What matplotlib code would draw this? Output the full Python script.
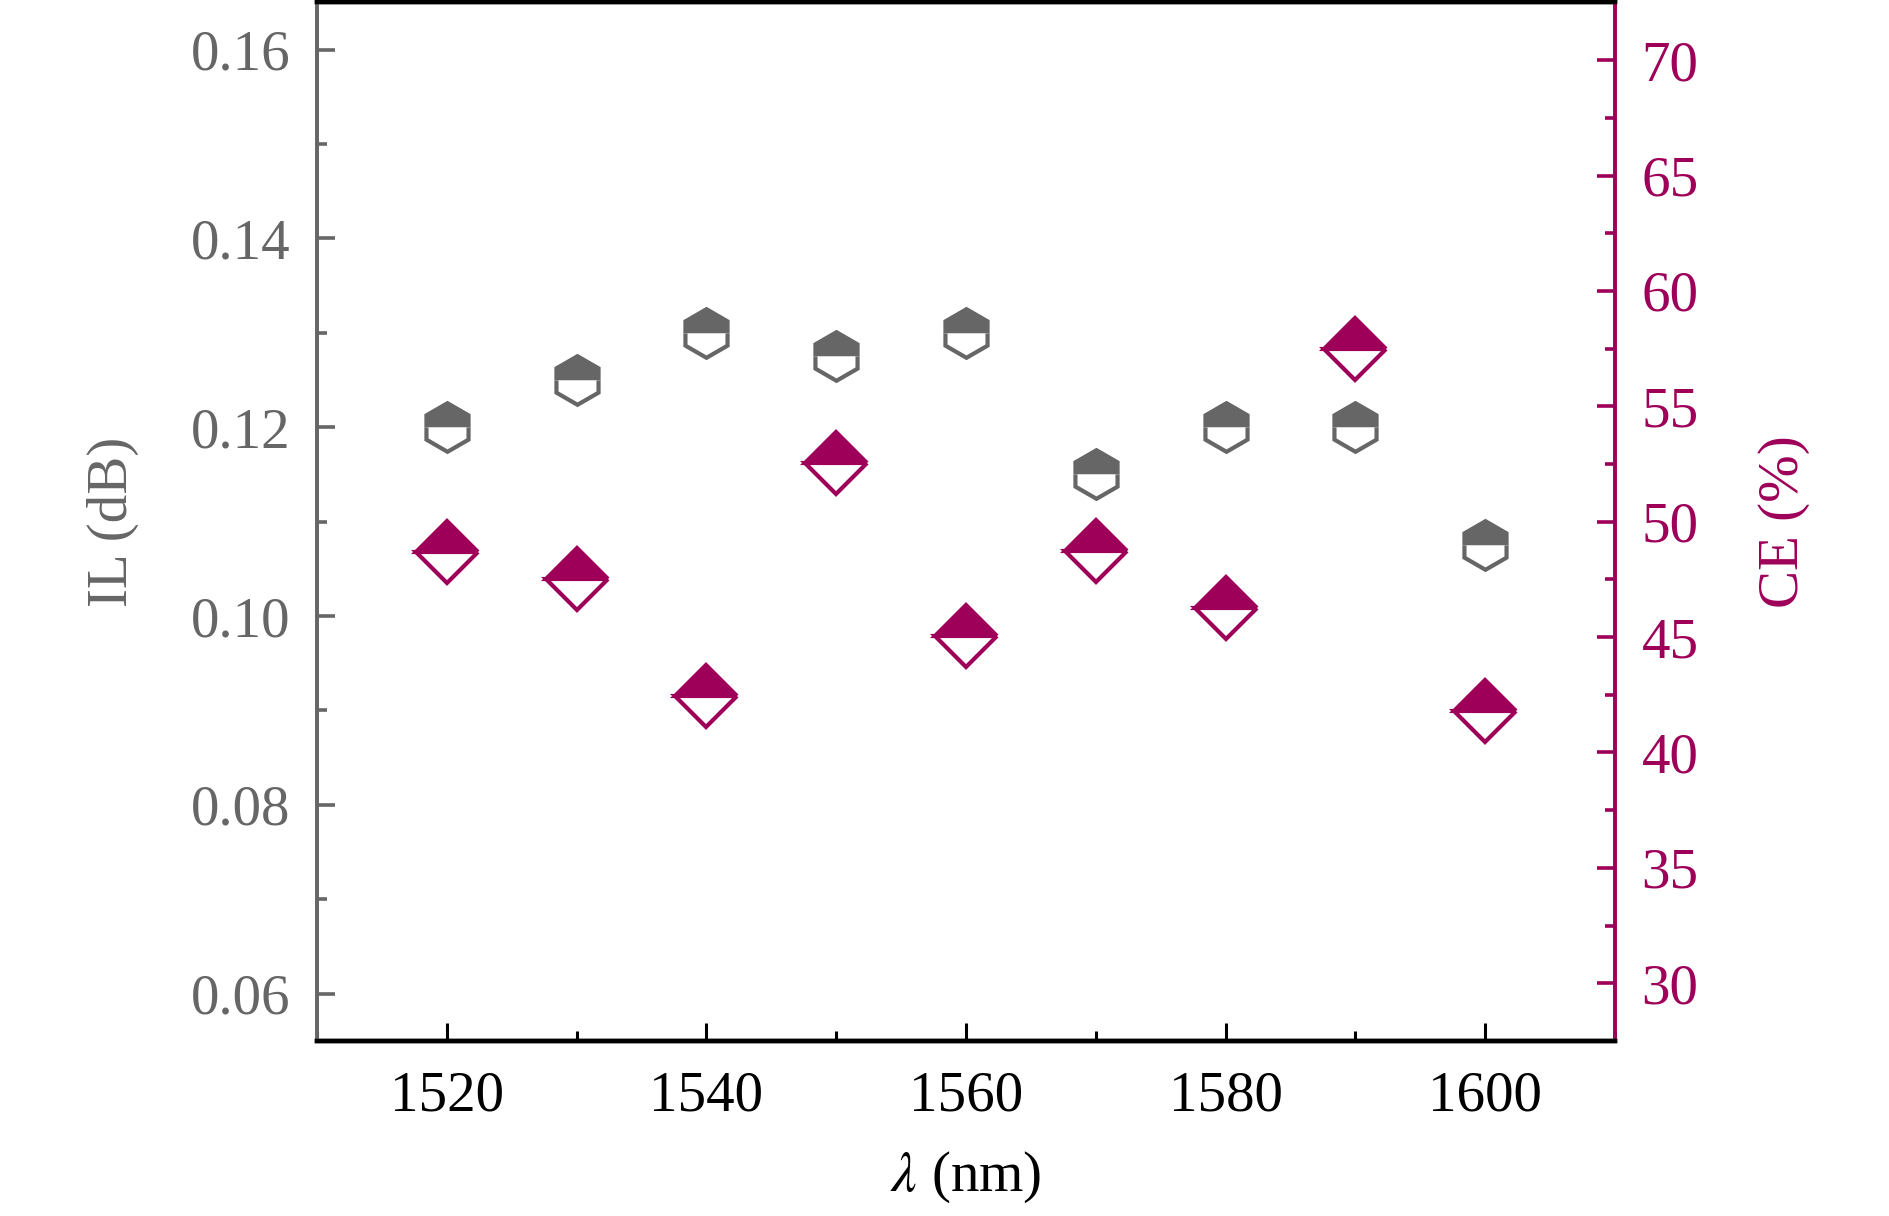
import matplotlib
matplotlib.use("Agg")
import matplotlib.pyplot as plt
from matplotlib.ticker import MultipleLocator

plt.rcParams['font.family'] = ['Liberation Serif', 'DejaVu Serif']
plt.rcParams['mathtext.fontset'] = 'stix'

# data
wavelength = [1520, 1530, 1540, 1550, 1560, 1570, 1580, 1590, 1600]
il_db = [0.120, 0.125, 0.130, 0.1275, 0.130, 0.115, 0.120, 0.120, 0.1075]
ce_pct = [48.7, 47.5, 42.45, 52.55, 45.05, 48.75, 46.25, 57.5, 41.8]

gray = '#666666'
crimson = '#9E0059'
fs = 41

fig = plt.figure(figsize=(18.9, 12.16), dpi=100)
ax = fig.add_axes([0.1677, 0.144, 0.8545 - 0.1677, 0.854])
ax2 = ax.twinx()

ax.plot(wavelength, il_db, linestyle='none', marker='h', markersize=35,
        fillstyle='top', color=gray, markeredgecolor=gray,
        markerfacecoloralt='white', markeredgewidth=3)
ax2.plot(wavelength, ce_pct, linestyle='none', marker='D', markersize=31.5,
         fillstyle='top', color=crimson, markeredgecolor=crimson,
         markerfacecoloralt='white', markeredgewidth=3)

ax.set_xlim(1510, 1610)
ax.set_ylim(0.055, 0.165)
ax2.set_ylim(27.5, 72.5)

ax.xaxis.set_major_locator(MultipleLocator(20))
ax.xaxis.set_minor_locator(MultipleLocator(10))
ax.yaxis.set_major_locator(MultipleLocator(0.02))
ax.yaxis.set_minor_locator(MultipleLocator(0.01))
ax2.yaxis.set_major_locator(MultipleLocator(5))
ax2.yaxis.set_minor_locator(MultipleLocator(2.5))
ax.yaxis.set_major_formatter(plt.FormatStrFormatter('%.2f'))

# spines
for a in (ax, ax2):
    a.spines['top'].set_color('black')
    a.spines['top'].set_linewidth(3.2)
    a.spines['bottom'].set_color('black')
    a.spines['bottom'].set_linewidth(3.2)
    a.spines['left'].set_color(gray)
    a.spines['left'].set_linewidth(2.6)
    a.spines['right'].set_color(crimson)
    a.spines['right'].set_linewidth(2.6)

ax.tick_params(axis='x', which='both', direction='in', top=False,
               colors='black', labelsize=fs, width=2.2, pad=21)
ax.tick_params(axis='x', which='major', length=13)
ax.tick_params(axis='x', which='minor', length=7)
ax.tick_params(axis='y', which='both', direction='in', colors=gray,
               labelsize=fs, width=2.6, pad=19)
ax.tick_params(axis='y', which='major', length=13)
ax.tick_params(axis='y', which='minor', length=7)
ax2.tick_params(axis='y', which='both', direction='in', colors=crimson,
                labelsize=fs, width=2.6, pad=19)
ax2.tick_params(axis='y', which='major', length=13)
ax2.tick_params(axis='y', which='minor', length=7)

ax.set_xlabel(r'$\lambda$ (nm)', fontsize=fs, color='black', labelpad=20)
ax.set_ylabel('IL (dB)', fontsize=fs, color=gray, labelpad=37)
ax2.set_ylabel('CE (%)', fontsize=fs, color=crimson, labelpad=43)

fig.savefig('out.png', dpi=100)
